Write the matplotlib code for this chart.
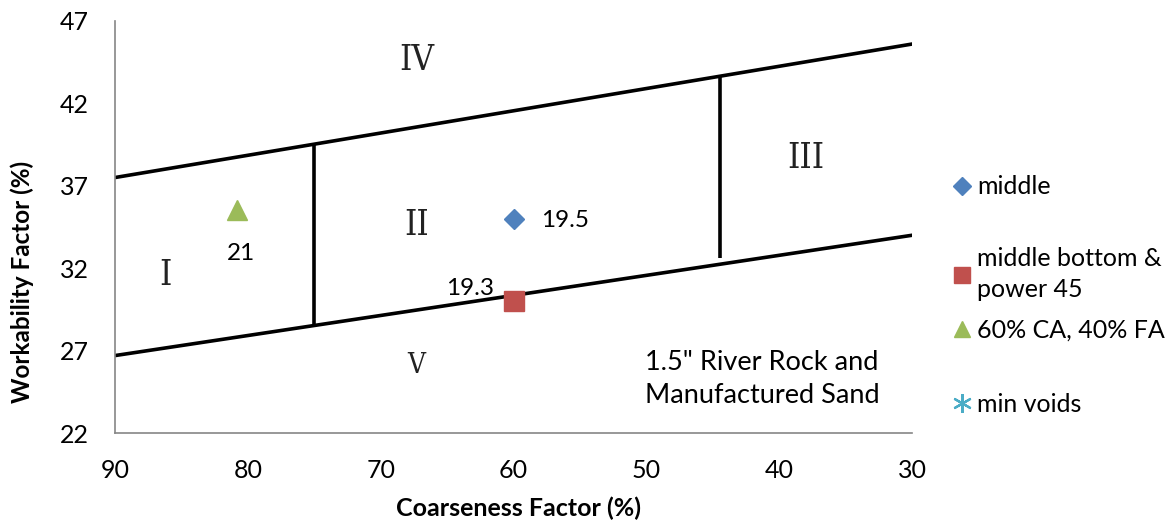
import numpy as np
import matplotlib
matplotlib.use("Agg")
import matplotlib.pyplot as plt

plt.rcParams['font.family'] = ['Lato', 'DejaVu Sans']

# zone boundary lines (coarseness factor, workability factor)
upper_x = [90, 30]
upper_y = [37.5, 45.6]
lower_x = [90, 30]
lower_y = [26.7, 34.0]
div1_x = [75, 75]
div1_y = [39.5, 28.6]
div2_x = [44.5, 44.5]
div2_y = [43.6, 32.6]

# series
middle = ([60], [35.0])
middle_bottom = ([60], [30.0])
ca_fa = ([80.8], [35.5])
min_voids = ([], [])

zone_names = ['I', 'II', 'III', 'IV', 'V']
zone_x = [86.2, 67.3, 38.0, 67.3, 67.3]
zone_y = [31.6, 34.6, 38.7, 44.6, 26.1]

fig = plt.figure(figsize=(11.69, 5.23), dpi=100)
ax = fig.add_axes([0.0984, 0.172, 0.682, 0.788])

for xs, ys in [(upper_x, upper_y), (lower_x, lower_y), (div1_x, div1_y), (div2_x, div2_y)]:
    ax.plot(xs, ys, color='black', lw=2.6, solid_capstyle='butt', zorder=2)

h1, = ax.plot(*middle, 'D', color='#4F81BD', ms=10.5, ls='none', label='middle', zorder=3)
h2, = ax.plot(*middle_bottom, 's', color='#C0504D', ms=14, ls='none',
              label='middle bottom &\npower 45', zorder=3)
h3, = ax.plot(*ca_fa, '^', color='#9BBB59', ms=14, ls='none', label='60% CA, 40% FA', zorder=3)
h4, = ax.plot(*min_voids, marker=(6, 2, 0), color='#4BACC6', ms=16, mew=1.6, ls='none',
              label='min voids', zorder=3)

# data labels
ax.annotate('19.5', (middle[0][0], middle[1][0]), xytext=(20, -1), textcoords='offset points',
            fontsize=17.5, ha='left', va='center')
ax.annotate('19.3', (middle_bottom[0][0], middle_bottom[1][0]), xytext=(-14, 9),
            textcoords='offset points', fontsize=17.5, ha='right', va='center')
ax.annotate('21', (ca_fa[0][0], ca_fa[1][0]), xytext=(3, -31), textcoords='offset points',
            fontsize=17.5, ha='center', va='center')

for name, zx, zy in zip(zone_names, zone_x, zone_y):
    size = 20 if name == 'V' else 25
    ax.text(zx, zy, name, family='DejaVu Serif', fontstretch='condensed',
            fontsize=size, ha='center', va='center', color='#222222')

ax.text(50.1, 25.25, '1.5" River Rock and\nManufactured Sand', fontsize=19.5,
        ha='left', va='center', linespacing=1.4)

ax.set_xlim(90, 30)
ax.set_ylim(22, 47)
ax.set_xticks(np.arange(90, 29, -10))
ax.set_yticks(np.arange(22, 48, 5))
ax.tick_params(length=0, labelsize=18)
ax.tick_params(axis='x', pad=19)
ax.tick_params(axis='y', pad=19)
for s in ['top', 'right']:
    ax.spines[s].set_visible(False)
for s in ['left', 'bottom']:
    ax.spines[s].set_color('#868686')
    ax.spines[s].set_linewidth(1.2)

ax.set_xlabel('Coarseness Factor (%)', fontsize=18, fontweight='bold')
ax.set_ylabel('Workability Factor (%)', fontsize=17.5, fontweight='bold')
ax.xaxis.label.set_va('center')
ax.yaxis.label.set_va('center')
ax.xaxis.set_label_coords(0.506, -0.182)
ax.yaxis.set_label_coords(-0.117, 0.367)

# legend entries placed one by one (uneven spacing like the original)
leg_handles = [h1, h2, h3, h4]
leg_rows = [187, 274, 330, 404]
for i, (h, row) in enumerate(zip(leg_handles, leg_rows)):
    leg = fig.legend(handles=[h], loc='center left', bbox_to_anchor=(0.8165, 1 - row / 523),
                     frameon=False, fontsize=18, handlelength=0.6, handletextpad=0.3,
                     borderpad=0, borderaxespad=0, markerscale=0.85)
    for t in leg.get_texts():
        t.set_linespacing(1.45)

fig.savefig('out.png', dpi=100)
